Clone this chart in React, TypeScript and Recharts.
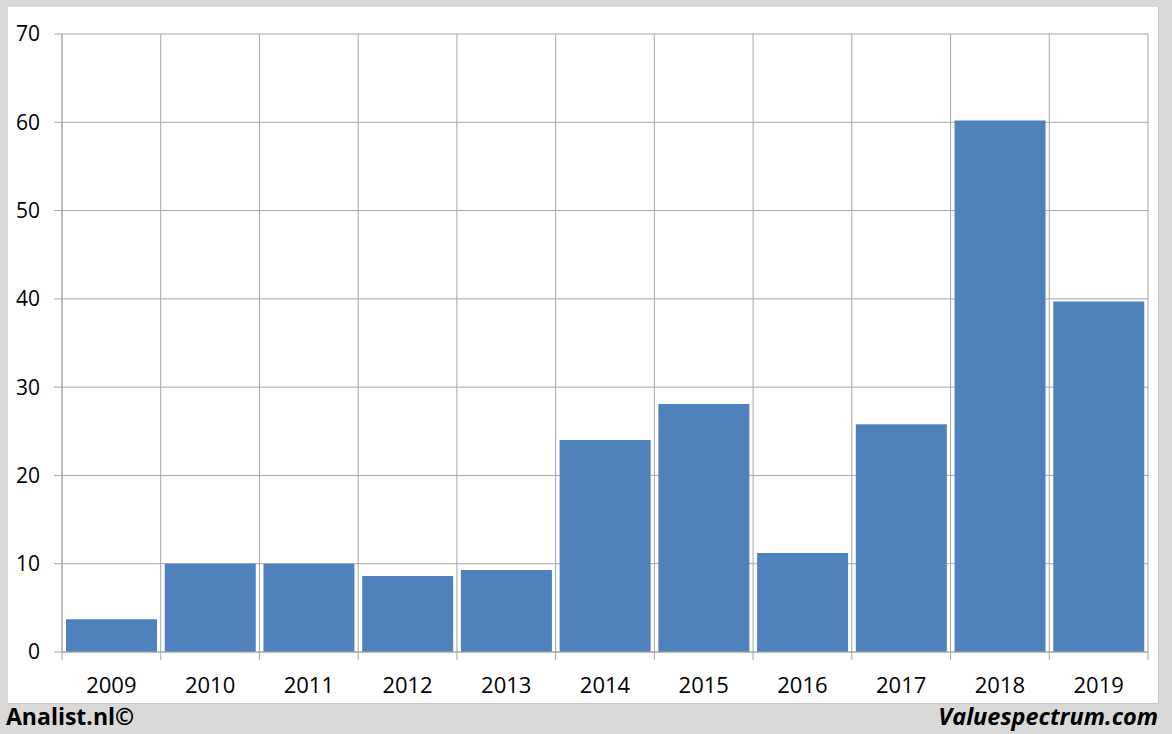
import React from 'react'
import { BarChart, Bar, XAxis, YAxis, CartesianGrid } from 'recharts'

const years = ['2009', '2010', '2011', '2012', '2013', '2014', '2015', '2016', '2017', '2018', '2019']
const values = [3.7, 10.0, 10.0, 8.6, 9.3, 24.0, 28.1, 11.2, 25.8, 60.2, 39.7]
const yTicks = [0, 10, 20, 30, 40, 50, 60, 70]

const data = years.map((year, i) => ({ year, value: values[i] }))

const GRID = '#a6a6a6'
const FONT = '"Open Sans", sans-serif'

// year label plus the small tick marks on the category boundaries
function YearTick(props: any) {
  const { x, y, payload, index, visibleTicksCount } = props
  const half = payload.offset ?? 0
  const top = y - 16
  return (
    <g>
      <line x1={x - half} x2={x - half} y1={top} y2={top + 8} stroke={GRID} />
      {index === visibleTicksCount - 1 && (
        <line x1={x + half} x2={x + half} y1={top} y2={top + 8} stroke={GRID} />
      )}
      <text x={x} y={y + 25} textAnchor="middle" fill="#000" fontSize={22} fontFamily={FONT}>
        {payload.value}
      </text>
    </g>
  )
}

export default function App() {
  return (
    <div style={{ position: 'absolute', left: 0, top: 0, width: 1172, height: 734, background: '#d9d9d9', overflow: 'hidden' }}>
      <div style={{ position: 'absolute', left: 8, top: 7, width: 1150, height: 696, background: '#fff', borderRight: '1px solid #c6c6c6', borderBottom: '1px solid #c6c6c6' }} />
      <div style={{ position: 'absolute', left: 0, top: 0 }}>
        <BarChart width={1172} height={734} data={data} margin={{ top: 34, right: 24, left: 0, bottom: 42 }} barCategoryGap={4}>
          <CartesianGrid
            stroke={GRID}
            verticalCoordinatesGenerator={({ offset }: any) =>
              years.map((_, i) => offset.left + (i * offset.width) / years.length).concat(offset.left + offset.width)
            }
          />
          <XAxis dataKey="year" height={40} tickLine={false} axisLine={{ stroke: GRID }} tickSize={16} tickMargin={0} interval={0} tick={<YearTick />} />
          <YAxis
            width={62}
            domain={[0, 70]}
            ticks={yTicks}
            interval={0}
            tickSize={8}
            tickMargin={14}
            axisLine={{ stroke: GRID }}
            tickLine={{ stroke: GRID }}
            tick={{ fill: '#000', fontSize: 21, fontFamily: FONT }}
          />
          <Bar dataKey="value" fill="#4f81bd" isAnimationActive={false} />
        </BarChart>
      </div>
      <div style={{ position: 'absolute', left: 6, top: 700, fontFamily: FONT, fontWeight: 700, fontSize: 23, color: '#000' }}>Analist.nl©</div>
      <div style={{ position: 'absolute', right: 14, top: 700, fontFamily: FONT, fontWeight: 700, fontStyle: 'italic', fontSize: 23.5, color: '#000' }}>Valuespectrum.com</div>
    </div>
  )
}
